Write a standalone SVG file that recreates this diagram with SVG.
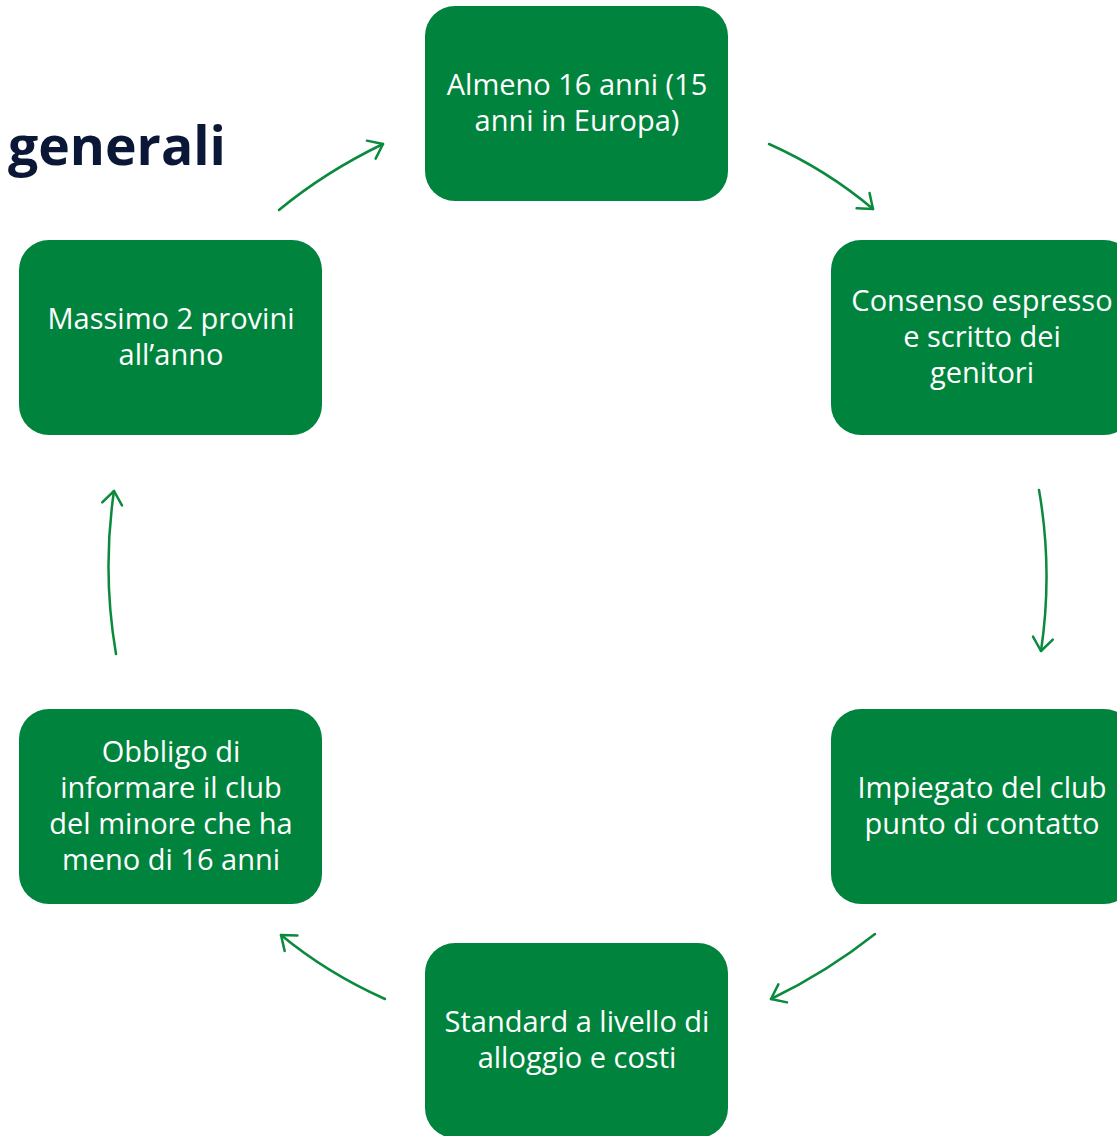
<svg xmlns="http://www.w3.org/2000/svg" width="1117" height="1136" viewBox="0 0 1117 1136">
<defs>
<style>
.box{fill:#00843d}
.t{fill:#ffffff;font-family:"Open Sans","Noto Sans",sans-serif;font-size:29px;text-anchor:middle}
.c{fill:none;stroke:#0a8a3c;stroke-width:2.5;stroke-linecap:round}
</style>
<marker id="ah" markerUnits="userSpaceOnUse" markerWidth="30" markerHeight="30" refX="0" refY="0" viewBox="-20 -15 30 30" orient="auto" overflow="visible">
<path d="M-13,-10 L0,0 L-13,10" fill="none" stroke="#0a8a3c" stroke-width="2.5" stroke-linecap="round" stroke-linejoin="round"/>
</marker>
</defs>
<rect width="1117" height="1136" fill="#ffffff"/>
<text x="8" y="165" font-family="'Open Sans','Noto Sans',sans-serif" font-weight="bold" font-size="53.5" fill="#0b1736">generali</text>
<g id="connectors">
<path class="c" d="M279,210 Q325,172 383,144" marker-end="url(#ah)"/>
<path class="c" d="M769,144 Q827,170 873,209" marker-end="url(#ah)"/>
<path class="c" d="M1039,490 Q1053,570 1041,651" marker-end="url(#ah)"/>
<path class="c" d="M875,934 Q827,972 771,999" marker-end="url(#ah)"/>
<path class="c" d="M385,999 Q327,973 281,935" marker-end="url(#ah)"/>
<path class="c" d="M116,654 Q102,572 114,491" marker-end="url(#ah)"/>
</g>
<g id="n1"><rect class="box" x="425" y="6" width="303" height="195" rx="30"/>
<text class="t" x="577" y="95">Almeno 16 anni (15</text><text class="t" x="577" y="131">anni in Europa)</text></g>
<g id="n2"><rect class="box" x="831" y="240" width="303" height="195" rx="30"/>
<text class="t" x="982" y="311">Consenso espresso</text><text class="t" x="982" y="347">e scritto dei</text><text class="t" x="982" y="383">genitori</text></g>
<g id="n3"><rect class="box" x="831" y="709" width="303" height="195" rx="30"/>
<text class="t" x="982" y="798">Impiegato del club</text><text class="t" x="982" y="834">punto di contatto</text></g>
<g id="n4"><rect class="box" x="425" y="943" width="303" height="195" rx="30"/>
<text class="t" x="577" y="1032">Standard a livello di</text><text class="t" x="577" y="1068">alloggio e costi</text></g>
<g id="n5"><rect class="box" x="19" y="709" width="303" height="195" rx="30"/>
<text class="t" x="171" y="762">Obbligo di</text><text class="t" x="171" y="798">informare il club</text><text class="t" x="171" y="834">del minore che ha</text><text class="t" x="171" y="870">meno di 16 anni</text></g>
<g id="n6"><rect class="box" x="19" y="240" width="303" height="195" rx="30"/>
<text class="t" x="171" y="329">Massimo 2 provini</text><text class="t" x="171" y="365">all’anno</text></g>
</svg>
